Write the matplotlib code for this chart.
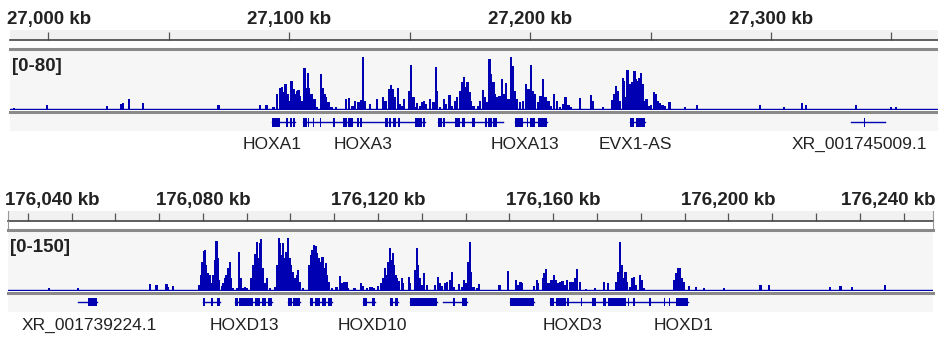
import matplotlib
matplotlib.use("Agg")
import matplotlib.pyplot as plt
import numpy as np

# ---------------- data ----------------
# panel 1: HOXA locus, chr7 (kb)
hoxa_view = (26984.2, 27369.3)
hoxa_range = 80
hoxa_signal = [
    (26985.9, 1.5), (26999.5, 5.8), (27024.5, 4.4), (27030.2, 7), (27031.0, 8),
    (27033.6, 13.3), (27039.5, 8), (27070.7, 5.8), (27088.0, 5.8),
    (27090.7, 5.8), (27093.5, 2.2), (27094.9, 20), (27096.3, 28.4), (27097.0, 29.3),
    (27097.6, 22.2), (27098.6, 33.3), (27099.4, 20), (27100.0, 11.1), (27101.1, 36.9),
    (27101.8, 26.7), (27102.5, 20), (27103.2, 24.4), (27103.9, 25.3), (27104.6, 17.8),
    (27105.3, 11.1), (27106.4, 54.7), (27106.9, 28.4), (27107.8, 48.4), (27108.4, 28.4),
    (27109.4, 20), (27110.5, 13.3), (27111.5, 2), (27113.2, 46.7), (27113.8, 28.4),
    (27114.7, 20), (27115.4, 15.6), (27116.3, 8.9), (27117.7, 3), (27119.4, 2),
    (27123.7, 13.3), (27125.0, 14.7), (27126.3, 4.4), (27127.4, 11.1), (27128.8, 8.9),
    (27129.8, 12.0), (27130.8, 69.8), (27131.5, 11.1), (27133.6, 6.7), (27136.4, 13.3),
    (27139.1, 15.6), (27140.1, 11.1), (27141.5, 26.7), (27142.3, 32), (27143.0, 26.7),
    (27144.0, 15.6), (27145.1, 28.0), (27146.1, 6.7), (27146.8, 4.4), (27147.8, 13.3),
    (27149.8, 24.4), (27150.6, 58.2), (27151.6, 15.6),
    (27152.3, 2), (27153.2, 7.6), (27154.4, 4.4), (27155.1, 8.9), (27156.0, 11.1),
    (27156.8, 6.7), (27158.5, 13.3), (27159.9, 8.9), (27160.9, 56.4), (27161.5, 24.4),
    (27162.7, 3), (27164.3, 13.3), (27165.1, 6.7), (27166.5, 19.1), (27167.5, 4.4),
    (27168.9, 11.1), (27169.8, 16.4), (27171.0, 24.4), (27171.9, 35.6), (27172.7, 42.2),
    (27173.4, 28.9), (27174.0, 35.6), (27174.8, 22.2), (27175.5, 11.1), (27176.5, 4.4),
    (27178.5, 4.4), (27179.3, 11.1), (27180.4, 25.3), (27181.3, 15.6), (27182.3, 8.9),
    (27183.1, 66.2), (27183.8, 46.7), (27184.8, 35.6), (27185.5, 20), (27186.4, 15.6),
    (27187.3, 17.8), (27188.3, 40), (27189.2, 20), (27190.0, 34.2), (27191.0, 13.3),
    (27192.0, 69.8), (27192.8, 57.8), (27193.8, 24.4), (27194.7, 13.3), (27195.9, 8.9),
    (27197.2, 11.1), (27198.3, 33.3), (27199.3, 26.7), (27200.3, 59.1), (27201.1, 24.4),
    (27202.1, 20), (27203.4, 8.9), (27204.4, 17.8), (27205.5, 40), (27206.5, 15.6),
    (27207.6, 11.1), (27208.6, 4.4), (27210.0, 20), (27211.1, 11.1),
    (27212.4, 2), (27213.8, 6.7), (27214.8, 16.4), (27215.9, 5.8), (27217.0, 2),
    (27220.7, 14.2), (27225.2, 19.1), (27225.9, 11.1), (27230.4, 2), (27234.1, 12),
    (27235.0, 20), (27235.7, 31.1), (27236.4, 24.4), (27237.3, 11.1), (27238.5, 41.3),
    (27239.1, 37.8), (27239.8, 15.6), (27240.5, 52), (27241.2, 33.3), (27241.9, 20),
    (27242.6, 35.6), (27243.3, 50.2), (27244.0, 40), (27244.7, 37.8), (27245.4, 41.3),
    (27246.1, 48.4), (27246.8, 33.3), (27247.4, 11.1), (27248.4, 13.3), (27249.4, 4.4),
    (27250.2, 5.8), (27251.5, 22.2), (27252.2, 20), (27253.0, 11.1), (27253.9, 7.6),
    (27254.9, 5.8), (27256.0, 4.4), (27257.8, 8.9), (27264.3, 2), (27269.2, 5.8),
    (27295.4, 5.8), (27305.4, 2), (27312.9, 8), (27314.5, 5), (27335.3, 5),
    (27349.8, 2), (27351.9, 2),
]
hoxa_introns = [(27092.8, 27102.5), (27105.9, 27156.4), (27162.0, 27188.8),
                (27193.8, 27206.9), (27241.5, 27247.7), (27333.2, 27347.3)]
hoxa_exons = [
    (27092.8, 27096.3), (27098.6, 27099.7), (27100.4, 27101.1), (27101.8, 27102.5),
    (27105.9, 27107.3), (27107.8, 27108.3), (27110.1, 27110.4), (27112.9, 27113.2),
    (27118.4, 27119.1), (27122.5, 27123.9), (27124.4, 27126.7), (27128.1, 27129.0),
    (27129.5, 27130.2), (27139.8, 27141.0), (27141.5, 27142.3), (27143.3, 27144.3),
    (27145.4, 27146.1), (27152.3, 27155.1), (27155.7, 27156.4),
    (27162.0, 27163.4), (27164.0, 27164.7), (27168.9, 27171.0), (27171.7, 27173.0),
    (27175.8, 27177.2), (27181.3, 27182.0), (27182.7, 27184.1), (27184.8, 27186.2),
    (27193.8, 27197.2), (27198.6, 27199.3), (27200.0, 27202.1), (27203.4, 27206.9),
    (27241.5, 27243.2), (27244.0, 27247.7), (27338.7, 27339.1), (27341.3, 27341.7),
]
hoxa_names = ["HOXA1", "HOXA3", "HOXA13", "EVX1-AS", "XR_001745009.1"]
hoxa_name_pos = [27092.9, 27130.7, 27197.9, 27243.9, 27336.5]

# panel 2: HOXD locus, chr2 (kb)
hoxd_view = (176035.5, 176246.7)
hoxd_range = 150
hoxd_signal = [
    (176044.9, 6), (176051.5, 4), (176067.9, 15), (176069.4, 12.5), (176071.7, 15),
    (176072.0, 7), (176073.1, 10),
    (176079.2, 12.5), (176079.5, 37.5), (176079.9, 70.8), (176080.2, 97.5), (176080.5, 100),
    (176080.8, 62.5), (176081.2, 41.7), (176081.6, 37.5), (176082.0, 16.7), (176082.4, 37.5),
    (176082.7, 75), (176083.1, 122.5), (176083.4, 79), (176083.7, 25), (176084.3, 10.8),
    (176084.6, 16.7), (176085.0, 29), (176085.4, 37.5), (176085.8, 54), (176086.2, 70.8),
    (176086.5, 29), (176086.9, 4), (176087.7, 6), (176088.3, 96), (176088.6, 29),
    (176089.2, 6), (176089.6, 8), (176090.1, 4), (176091.1, 29), (176091.5, 62.5),
    (176091.9, 89), (176092.3, 121), (176092.6, 79), (176093.0, 117), (176093.2, 127.5),
    (176093.6, 54), (176094.2, 16.7), (176094.7, 29), (176095.3, 6), (176096.4, 8),
    (176097.0, 62.5), (176097.3, 129), (176097.6, 117), (176098.0, 87.5), (176098.3, 117),
    (176098.7, 79), (176099.1, 96), (176099.5, 129), (176099.9, 79), (176100.2, 62.5),
    (176100.6, 46), (176101.0, 29), (176101.4, 37.5), (176101.8, 50), (176102.1, 21),
    (176102.9, 6), (176104.3, 62.5), (176104.7, 87.5), (176105.0, 100), (176105.3, 112.5),
    (176105.8, 111), (176106.1, 92), (176106.6, 79), (176106.9, 71), (176107.3, 83),
    (176107.7, 54), (176108.1, 67), (176108.4, 37.5), (176108.8, 21), (176109.4, 6),
    (176110.5, 8), (176111.3, 36), (176111.7, 17), (176112.3, 19), (176112.8, 21),
    (176113.2, 6), (176114.6, 4), (176116.1, 17), (176116.6, 11), (176117.4, 4),
    (176118.1, 8), (176118.7, 8), (176119.1, 6), (176120.0, 11), (176120.6, 17),
    (176121.2, 29), (176121.6, 56), (176121.9, 37.5), (176122.3, 71), (176122.7, 104),
    (176123.1, 75), (176123.4, 92), (176123.7, 62.5), (176124.1, 37.5), (176124.4, 29),
    (176124.8, 22.5), (176125.4, 29), (176125.7, 17), (176127.0, 33), (176127.3, 17),
    (176128.4, 50), (176128.8, 104), (176129.2, 62.5), (176129.5, 29), (176130.1, 12.5),
    (176130.5, 42), (176131.1, 12.5), (176133.0, 12.5), (176133.6, 33), (176134.1, 17),
    (176134.6, 11), (176135.3, 17), (176135.8, 21), (176136.4, 25), (176136.9, 44),
    (176137.4, 8), (176138.4, 14), (176139.1, 8), (176139.7, 25), (176140.2, 17),
    (176140.6, 71), (176141.0, 121), (176141.3, 46), (176141.8, 8), (176142.5, 6),
    (176143.1, 14),
    (176147.7, 12.5), (176149.7, 47.5), (176151.5, 25), (176152.0, 12.5), (176152.5, 19),
    (176152.8, 17), (176155.6, 11), (176156.2, 25), (176156.6, 17), (176157.6, 31),
    (176157.9, 42), (176158.3, 52.5), (176158.7, 17), (176159.2, 17), (176159.6, 25),
    (176160.1, 37.5), (176160.6, 25), (176161.1, 17), (176161.5, 21), (176162.1, 22.5),
    (176162.7, 12.5), (176163.2, 25), (176163.8, 19), (176164.4, 21), (176164.9, 29),
    (176165.5, 52.5), (176166.1, 21), (176167.4, 2.5), (176169.5, 4), (176171.6, 19),
    (176172.5, 17), (176174.4, 21), (176174.8, 46), (176175.2, 121), (176175.6, 62.5),
    (176176.0, 29), (176176.5, 46), (176176.9, 21), (176177.6, 8), (176178.1, 29),
    (176178.4, 33), (176178.9, 12.5), (176179.8, 37.5), (176180.2, 25), (176180.7, 6),
    (176187.5, 25), (176188.1, 42), (176188.5, 54), (176188.9, 56), (176189.3, 29),
    (176189.8, 21), (176191.0, 11), (176192.6, 8), (176194.5, 6), (176199.0, 6),
    (176207.3, 12.5), (176209.2, 12.5), (176223.1, 8), (176225.6, 10), (176228.2, 8),
    (176235.8, 12.5),
]
hoxd_introns = [(176051.5, 176055.8), (176080.1, 176083.9), (176087.3, 176095.7),
                (176099.5, 176102.1), (176104.4, 176109.4), (176116.6, 176119.3),
                (176122.7, 176124.6), (176127.3, 176133.4), (176134.9, 176140.3),
                (176150.2, 176155.7), (176159.2, 176190.7)]
hoxd_exons = [
    (176053.7, 176055.8), (176080.1, 176080.5), (176081.8, 176082.3), (176083.2, 176083.9),
    (176087.3, 176088.1), (176088.3, 176091.5), (176091.9, 176093.0), (176093.4, 176094.5),
    (176094.9, 176095.7), (176099.5, 176100.3), (176100.5, 176102.1), (176104.4, 176105.2),
    (176105.6, 176106.8), (176107.1, 176108.2), (176108.6, 176109.4), (176116.6, 176117.4),
    (176118.5, 176119.3), (176122.7, 176123.4), (176123.8, 176124.6), (176127.3, 176130.3),
    (176130.3, 176132.6), (176132.6, 176133.4), (176137.1, 176137.5), (176139.1, 176140.3),
    (176150.2, 176152.7), (176152.7, 176155.7), (176159.2, 176160.1), (176160.7, 176162.9),
    (176163.2, 176163.5), (176166.3, 176166.6), (176168.8, 176169.8), (176171.3, 176172.1),
    (176172.5, 176176.6), (176177.0, 176177.4), (176178.2, 176178.6), (176181.9, 176182.2),
    (176185.3, 176185.6), (176186.4, 176186.7), (176188.1, 176190.7),
]
hoxd_names = ["XR_001739224.1", "HOXD13", "HOXD10", "HOXD3", "HOXD1"]
hoxd_name_pos = [176054.0, 176089.4, 176118.6, 176164.5, 176189.8]

# ---------------- drawing ----------------
BLUE = "#0000b2"
W, H = 938, 339
fig = plt.figure(figsize=(W / 100, H / 100), dpi=100)
ruler_font = dict(family=["Liberation Sans", "DejaVu Sans"], fontweight="bold", fontsize=13.5)
gene_font = dict(family=["Liberation Sans Narrow", "Liberation Sans", "DejaVu Sans"], fontsize=12.5)


def px_axes(x0, y0, x1, y1):
    return fig.add_axes([x0 / W, 1 - y1 / H, (x1 - x0) / W, (y1 - y0) / H])


def clamp(ax, texts, slack=3):
    # keep ruler labels inside the panel, like IGV does
    fig.canvas.draw()
    r = fig.canvas.get_renderer()
    ab = ax.get_window_extent(r)
    for t in texts:
        bb = t.get_window_extent(r)
        dx = 0
        if bb.x0 < ab.x0 - slack:
            dx = ab.x0 - slack - bb.x0
        elif bb.x1 > ab.x1 + 2:
            dx = ab.x1 + 2 - bb.x1
        if dx:
            x, y = t.xyann
            t.xyann = (x + dx * 72 / fig.dpi, y)


def panel(view, rng, signal, introns, exons, names, name_pos,
          xl, xr, ry, lab_step, tick_step, bar_w, gene_mid, box=False):
    # ruler
    rax = px_axes(xl, ry, xr, ry + 10)
    rax.set_facecolor("#f1f1f1")
    rax.set_xlim(view)
    rax.set_ylim(0, 1)
    rax.set_yticks([])
    for s in ["top", "left", "right"]:
        rax.spines[s].set_visible(box and s != "top")
        rax.spines[s].set_color("#999999")
    rax.spines["bottom"].set_color("#444444")
    rax.spines["bottom"].set_linewidth(1.2)
    first = np.ceil(view[0] / tick_step) * tick_step
    rax.set_xticks(np.arange(first, view[1], tick_step))
    rax.tick_params(axis="x", direction="in", length=5.5, width=0.9, color="#555555",
                    labelbottom=False)
    texts = []
    lab_first = np.ceil(view[0] / lab_step) * lab_step
    for t in np.arange(lab_first, view[1] + 1, lab_step):
        texts.append(rax.annotate(f"{int(t):,} kb", xy=(t, 1), xycoords=("data", "axes fraction"),
                                  xytext=(0, 7.5), textcoords="offset points",
                                  ha="center", va="center", color="#222222", **ruler_font))
    clamp(rax, texts)

    top = ry + 10
    if box:
        bax = px_axes(xl, top, xr, top + 8)
        bax.set_xticks([]); bax.set_yticks([])
        bax.patch.set_alpha(0)
        for s in ["top", "bottom"]:
            bax.spines[s].set_visible(False)
        for s in ["left", "right"]:
            bax.spines[s].set_color("#999999")

    # signal track
    tax = px_axes(xl, top + 9, xr, top + 70)
    tax.set_facecolor("#f6f6f6")
    tax.set_xlim(view)
    tax.set_ylim(-rng * 0.017, rng)
    tax.set_xticks([]); tax.set_yticks([])
    for s in ["bottom", "left", "right"]:
        tax.spines[s].set_visible(False)
    tax.spines["top"].set_color("#8a8a8a")
    tax.spines["top"].set_linewidth(2.2)
    pos = [p for p, v in signal]
    val = [v for p, v in signal]
    tax.bar(pos, val, width=bar_w, color=BLUE, linewidth=0)
    tax.axhline(0, color=BLUE, lw=1)
    tax.text(0.002, 0.72, f"[0-{rng}]", transform=tax.transAxes, ha="left", va="center",
             color="#222222", **ruler_font)

    # gene track
    gax = px_axes(xl, top + 72, xr, top + 91)
    gax.set_facecolor("#f6f6f6")
    gax.set_xlim(view)
    gax.set_ylim(0, 1)
    gax.set_xticks([]); gax.set_yticks([])
    for s in ["bottom", "left", "right"]:
        gax.spines[s].set_visible(False)
    gax.spines["top"].set_color("#8a8a8a")
    gax.spines["top"].set_linewidth(2.2)
    for a, b in introns:
        gax.plot([a, b], [gene_mid, gene_mid], color=BLUE, lw=1)
    gax.broken_barh([(a, b - a) for a, b in exons], (gene_mid - 0.22, 0.44),
                    facecolors=BLUE)
    for n, p in zip(names, name_pos):
        gax.annotate(n, xy=(p, 0), xycoords=("data", "axes fraction"),
                     xytext=(0, -10), textcoords="offset points",
                     ha="center", va="center", color="#222222", **gene_font)


panel(hoxa_view, hoxa_range, hoxa_signal, hoxa_introns, hoxa_exons, hoxa_names,
      hoxa_name_pos, 10, 938, 30, 100, 50, 1.0, 0.45)
panel(hoxd_view, hoxd_range, hoxd_signal, hoxd_introns, hoxd_exons, hoxd_names,
      hoxd_name_pos, 8, 933, 211, 40, 10, 0.5, 0.52, box=True)

fig.savefig("out.png", dpi=100)
